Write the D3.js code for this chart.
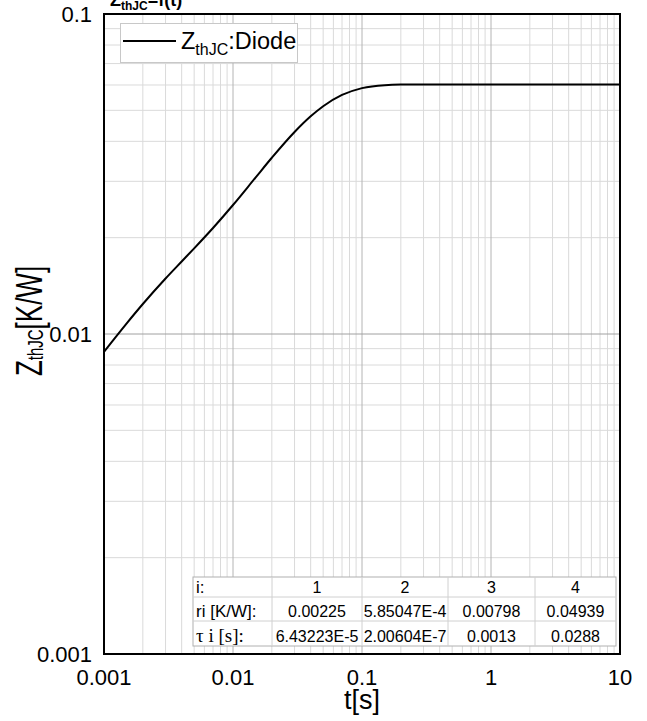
<!DOCTYPE html>
<html>
<head>
<meta charset="utf-8">
<script src="https://cdn.jsdelivr.net/npm/d3@7/dist/d3.min.js"></script>
<style>
  html, body { margin: 0; padding: 0; background: #fff; }
  svg { display: block; font-family: "Liberation Sans", Arial, sans-serif; }
</style>
</head>
<body>
<svg id="chart" width="647" height="721"></svg>
<script>
// ---- data ----
const timeS = [0.001, 0.0015, 0.002, 0.003, 0.004, 0.005, 0.007, 0.01, 0.015, 0.02, 0.03, 0.04, 0.05, 0.07, 0.1, 0.15, 0.2, 0.3, 0.5, 1, 2, 5, 10];
const zthJC = [0.0088, 0.0108, 0.01241, 0.01491, 0.01685, 0.01852, 0.02144, 0.0253, 0.03087, 0.03554, 0.04278, 0.04789, 0.0515, 0.05586, 0.05867, 0.05994, 0.06016, 0.0602, 0.0602, 0.0602, 0.0602, 0.0602, 0.0602];
const xTicks = [0.001, 0.01, 0.1, 1, 10];
const xTickLabels = ["0.001", "0.01", "0.1", "1", "10"];
const yTicks = [0.001, 0.01, 0.1];
const yTickLabels = ["0.001", "0.01", "0.1"];
const tableIdx = ["1", "2", "3", "4"];
const tableRi = ["0.00225", "5.85047E-4", "0.00798", "0.04939"];
const tableTau = ["6.43223E-5", "2.00604E-7", "0.0013", "0.0288"];

const svg = d3.select("#chart");
const L = 104, R = 620, T = 14, B = 654;
const x = d3.scaleLog().domain([0.001, 10]).range([L, R]);
const y = d3.scaleLog().domain([0.001, 0.1]).range([B, T]);

// grid
const minorX = [], minorY = [];
for (let d = 0.001; d < 9.9; d *= 10) for (let k = 2; k <= 9; k++) minorX.push(d * k);
for (let d = 0.001; d < 0.099; d *= 10) for (let k = 2; k <= 9; k++) minorY.push(d * k);
const g = svg.append("g");
g.selectAll(".mx").data(minorX).join("line")
  .attr("x1", d => x(d)).attr("x2", d => x(d)).attr("y1", T).attr("y2", B)
  .attr("stroke", "#dadada").attr("stroke-width", 1);
g.selectAll(".my").data(minorY).join("line")
  .attr("y1", d => y(d)).attr("y2", d => y(d)).attr("x1", L).attr("x2", R)
  .attr("stroke", "#dadada").attr("stroke-width", 1);
g.selectAll(".Mx").data(xTicks).join("line")
  .attr("x1", d => x(d)).attr("x2", d => x(d)).attr("y1", T).attr("y2", B)
  .attr("stroke", "#b4b4b4").attr("stroke-width", 1);
g.selectAll(".My").data(yTicks).join("line")
  .attr("y1", d => y(d)).attr("y2", d => y(d)).attr("x1", L).attr("x2", R)
  .attr("stroke", "#a0a0a0").attr("stroke-width", 1);

// curve
const line = d3.line().x((d, i) => x(timeS[i])).y(d => y(d)).curve(d3.curveMonotoneX);
svg.append("path").datum(zthJC).attr("d", line)
  .attr("fill", "none").attr("stroke", "#000").attr("stroke-width", 2);

// table
const colX = [193, 272, 362, 448, 535, 616];
const rowY = [577, 597, 621, 646];
const tg = svg.append("g");
tg.append("rect").attr("x", colX[0]).attr("y", rowY[0])
  .attr("width", colX[5] - colX[0]).attr("height", rowY[3] - rowY[0])
  .attr("fill", "#fff").attr("stroke", "#b0b0b0").attr("stroke-width", 1);
colX.slice(1, 5).forEach(cx => tg.append("line").attr("x1", cx).attr("x2", cx)
  .attr("y1", rowY[0]).attr("y2", rowY[3]).attr("stroke", "#d0d0d0"));
rowY.slice(1, 3).forEach(ry => tg.append("line").attr("y1", ry).attr("y2", ry)
  .attr("x1", colX[0]).attr("x2", colX[5]).attr("stroke", "#d0d0d0"));
const rows = [tableIdx, tableRi, tableTau];
const rowBase = [593, 617, 642];
const rowLabels = ["i:", "ri [K/W]:", "τ i [s]:"];
rows.forEach((r, ri) => {
  tg.append("text").attr("x", colX[0] + 3).attr("y", rowBase[ri])
    .attr("font-size", ri === 2 ? 19 : 17)
    .attr("font-family", ri === 2 ? "'Liberation Serif', 'Times New Roman', serif" : null)
    .text(rowLabels[ri]);
  r.forEach((v, ci) => {
    tg.append("text").attr("x", (colX[ci + 1] + colX[ci + 2]) / 2).attr("y", rowBase[ri])
      .attr("text-anchor", "middle").attr("font-size", 16).text(v);
  });
});

// plot border
svg.append("rect").attr("x", L).attr("y", T).attr("width", R - L).attr("height", B - T)
  .attr("fill", "none").attr("stroke", "#000").attr("stroke-width", 2);

// tick labels
svg.selectAll(".xt").data(xTicks).join("text")
  .attr("x", d => x(d)).attr("y", 685).attr("text-anchor", "middle")
  .attr("font-size", 22).text((d, i) => xTickLabels[i]);
svg.selectAll(".yt").data(yTicks).join("text")
  .attr("x", 92).attr("y", d => y(d) + 8).attr("text-anchor", "end")
  .attr("font-size", 22).text((d, i) => yTickLabels[i]);

// axis titles
svg.append("text").attr("x", 362).attr("y", 709).attr("text-anchor", "middle")
  .attr("font-size", 27).text("t[s]");
const yl = svg.append("text").attr("transform", "translate(42,321) rotate(-90) scale(1,1.42)")
  .attr("text-anchor", "middle").attr("font-size", 26);
yl.append("tspan").text("Z");
yl.append("tspan").attr("font-size", 15).attr("dy", 1).text("thJC");
yl.append("tspan").attr("dy", -1).text("[K/W]");

// title
const tt = svg.append("text").attr("x", 110).attr("y", 6).attr("font-size", 18).attr("font-weight", "bold");
tt.append("tspan").text("Z");
tt.append("tspan").attr("font-size", 12).attr("dy", 4).text("thJC");
tt.append("tspan").attr("dy", -4).text("=f(t)");

// legend
const lg = svg.append("g");
lg.append("rect").attr("x", 120.5).attr("y", 23.5).attr("width", 177).attr("height", 39)
  .attr("fill", "#fff").attr("stroke", "#c8c8c8");
lg.append("line").attr("x1", 123).attr("x2", 176).attr("y1", 41).attr("y2", 41)
  .attr("stroke", "#000").attr("stroke-width", 2);
const lt = lg.append("text").attr("x", 181).attr("y", 49).attr("font-size", 23.5);
lt.append("tspan").text("Z");
lt.append("tspan").attr("font-size", 16).attr("dy", 6).text("thJC");
lt.append("tspan").attr("dy", -6).text(":Diode");
</script>
</body>
</html>
